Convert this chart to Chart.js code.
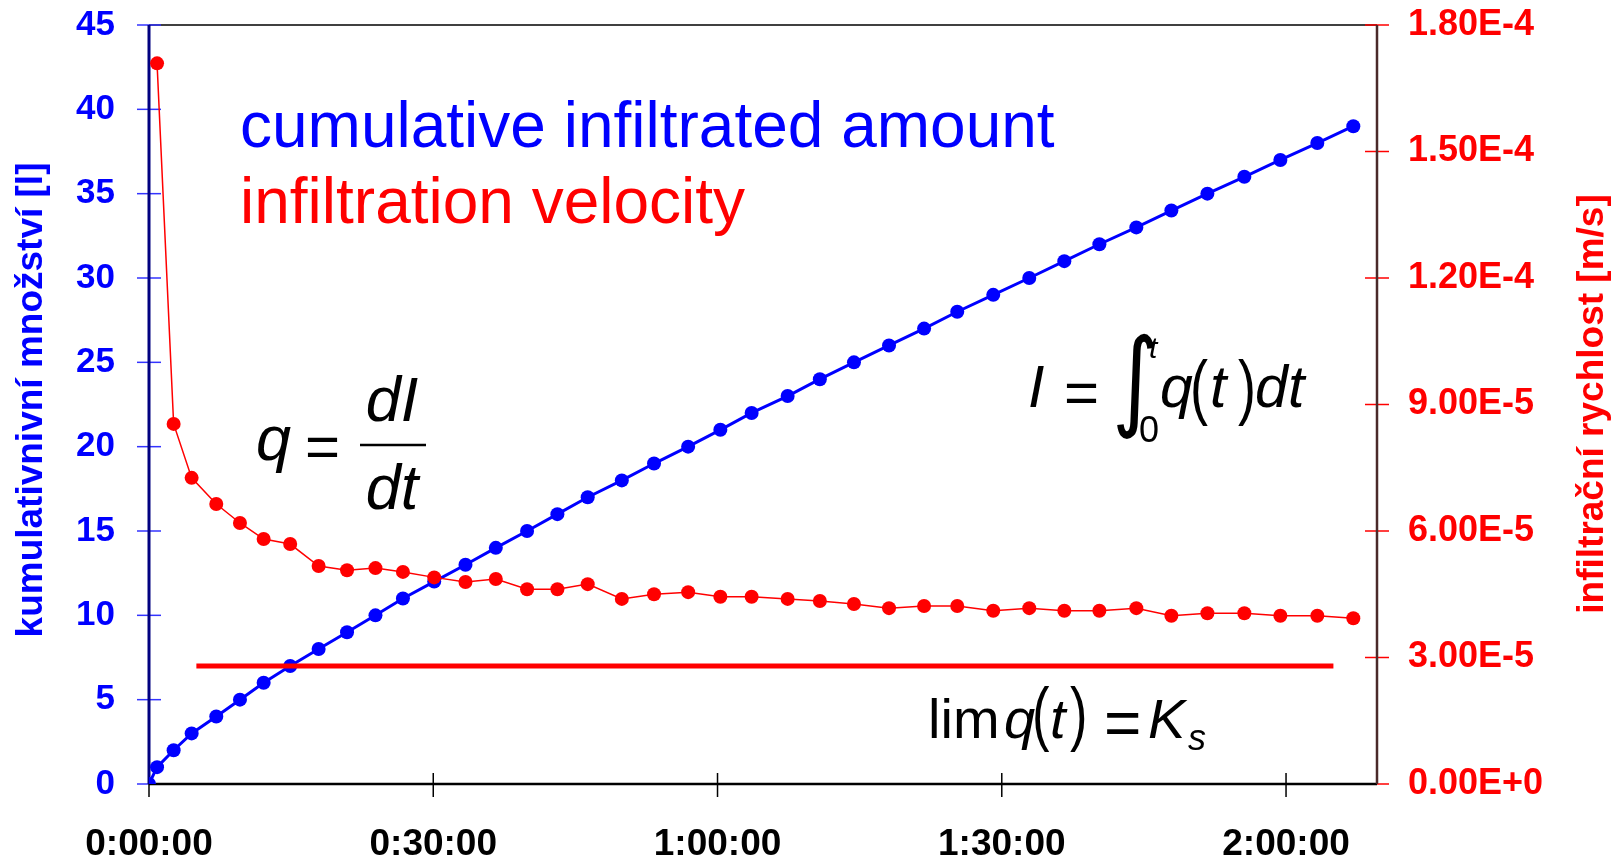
<!DOCTYPE html>
<html>
<head>
<meta charset="utf-8">
<script src="https://cdn.jsdelivr.net/npm/chart.js@4/dist/chart.umd.min.js"></script>
<style>
  body { margin: 0; background: #fff; }
  canvas { display: block; }
</style>
</head>
<body>
<canvas id="infiltration" width="1616" height="861"></canvas>
<script>
// time of each reading [min]
const timeMin = [0, 0.85, 2.6, 4.5, 7.1, 9.6, 12.1, 14.9, 17.9, 20.9, 23.9, 26.8, 30.1, 33.4, 36.6,
  39.9, 43.1, 46.3, 49.9, 53.3, 56.9, 60.3, 63.6, 67.4, 70.8, 74.4, 78.1, 81.8, 85.3, 89.1,
  92.9, 96.6, 100.3, 104.2, 107.9, 111.7, 115.6, 119.4, 123.3, 127.1];

// cumulative infiltrated amount [l]
const cumLiters = [0, 1, 2, 3, 4, 5, 6, 7, 8, 9, 10, 11, 12, 13, 14, 15, 16, 17, 18, 19,
  20, 21, 22, 23, 24, 25, 26, 27, 28, 29, 30, 31, 32, 33, 34, 35, 36, 37, 38, 39];

// infiltration velocity [m/s], from the second reading on
const velocity = [1.709e-4, 8.54e-5, 7.26e-5, 6.64e-5, 6.19e-5, 5.81e-5, 5.69e-5, 5.17e-5, 5.07e-5,
  5.12e-5, 5.03e-5, 4.90e-5, 4.79e-5, 4.86e-5, 4.62e-5, 4.62e-5, 4.74e-5, 4.39e-5, 4.50e-5,
  4.55e-5, 4.44e-5, 4.44e-5, 4.39e-5, 4.34e-5, 4.27e-5, 4.17e-5, 4.22e-5, 4.22e-5, 4.11e-5,
  4.17e-5, 4.11e-5, 4.11e-5, 4.17e-5, 3.99e-5, 4.05e-5, 4.05e-5, 3.99e-5, 3.99e-5, 3.93e-5];

// saturated conductivity line
const ksValue = 2.8e-5;
const ksTimes = [5, 125];

const xTicks = [0, 30, 60, 90, 120];
const leftTicks = [0, 5, 10, 15, 20, 25, 30, 35, 40, 45];
const rightTicks = [0, 3e-5, 6e-5, 9e-5, 1.2e-4, 1.5e-4, 1.8e-4];

const BLUE = '#0000ff';
const RED = '#ff0000';
const FONT = '"Liberation Sans", Arial, sans-serif';

const blueData = timeMin.map((t, i) => ({ x: t, y: cumLiters[i] }));
const redData = velocity.map((v, i) => ({ x: timeMin[i + 1], y: v }));
const ksData = ksTimes.map((t) => ({ x: t, y: ksValue }));

const fmtTime = (v) => {
  const h = Math.floor(v / 60);
  const m = Math.round(v % 60);
  return h + ':' + String(m).padStart(2, '0') + ':00';
};

const fmtExp = (v) => {
  if (v === 0) return '0.00E+0';
  return v.toExponential(2).toUpperCase();
};

const txt = (ctx, s, x, y, font, color, align) => {
  ctx.font = font;
  ctx.fillStyle = color || '#000';
  ctx.textAlign = align || 'left';
  ctx.textBaseline = 'alphabetic';
  ctx.fillText(s, x, y);
};

// same as txt but squeezed / stretched (thin brackets, tall integral)
const txtScaled = (ctx, s, x, y, font, sx, sy) => {
  ctx.save();
  ctx.translate(x, y);
  ctx.scale(sx, sy);
  txt(ctx, s, 0, 0, font);
  ctx.restore();
};

// axis lines with ticks crossing them, like the original Excel chart
const axesPlugin = {
  id: 'axesPlugin',
  beforeDatasetsDraw(chart) {
    const { ctx, chartArea: a, scales } = chart;
    ctx.save();
    ctx.lineWidth = 1.5;
    ctx.strokeStyle = '#000';
    ctx.beginPath();
    ctx.moveTo(a.left, a.top);
    ctx.lineTo(a.right, a.top);
    ctx.stroke();

    ctx.lineWidth = 1.5;
    ctx.strokeStyle = '#3333ff';
    leftTicks.forEach((v) => {
      const y = scales.y.getPixelForValue(v);
      ctx.beginPath();
      ctx.moveTo(a.left - 12, y);
      ctx.lineTo(a.left + 12, y);
      ctx.stroke();
    });
    ctx.strokeStyle = RED;
    rightTicks.forEach((v) => {
      const y = scales.y1.getPixelForValue(v);
      ctx.beginPath();
      ctx.moveTo(a.right - 12, y);
      ctx.lineTo(a.right + 12, y);
      ctx.stroke();
    });
    ctx.strokeStyle = '#000';
    xTicks.forEach((v) => {
      const x = scales.x.getPixelForValue(v);
      ctx.beginPath();
      ctx.moveTo(x, a.bottom - 11);
      ctx.lineTo(x, a.bottom + 13);
      ctx.stroke();
    });

    ctx.lineWidth = 2.5;
    ctx.strokeStyle = '#000';
    ctx.beginPath();
    ctx.moveTo(a.left, a.bottom);
    ctx.lineTo(a.right, a.bottom);
    ctx.stroke();
    ctx.lineWidth = 3;
    ctx.strokeStyle = '#000080';
    ctx.beginPath();
    ctx.moveTo(a.left, a.top);
    ctx.lineTo(a.left, a.bottom);
    ctx.stroke();
    ctx.lineWidth = 2.5;
    ctx.strokeStyle = '#4a2a2a';
    ctx.beginPath();
    ctx.moveTo(a.right, a.top);
    ctx.lineTo(a.right, a.bottom);
    ctx.stroke();
    ctx.restore();
  },
  afterDraw(chart) {
    const ctx = chart.ctx;
    ctx.save();

    // axis titles, both reading bottom to top
    ctx.save();
    ctx.translate(29, 400);
    ctx.rotate(-Math.PI / 2);
    txt(ctx, 'kumulativnivní množství [l]', 0, 13, 'bold 37px ' + FONT, BLUE, 'center');
    ctx.restore();
    ctx.save();
    ctx.translate(1590, 404);
    ctx.rotate(-Math.PI / 2);
    txt(ctx, 'infiltrační rychlost [m/s]', 0, 13, 'bold 37px ' + FONT, RED, 'center');
    ctx.restore();

    // legend-like captions
    txt(ctx, 'cumulative infiltrated amount', 240, 147, '64px ' + FONT, BLUE);
    txt(ctx, 'infiltration velocity', 240, 223, '64px ' + FONT, RED);

    const it = (n) => 'italic ' + n + 'px ' + FONT;
    const up = (n) => n + 'px ' + FONT;

    // q = dI/dt
    txt(ctx, 'q', 256, 460, it(63));
    txt(ctx, '=', 305, 467, up(60));
    ctx.lineWidth = 2.5;
    ctx.strokeStyle = '#000';
    ctx.beginPath();
    ctx.moveTo(360, 445);
    ctx.lineTo(426, 445);
    ctx.stroke();
    txt(ctx, 'dI', 392, 421, it(63), '#000', 'center');
    txt(ctx, 'dt', 392, 509, it(63), '#000', 'center');

    // I = integral q(t) dt
    txt(ctx, 'I', 1028, 407, it(59));
    txt(ctx, '=', 1064, 413, up(60));
    txtScaled(ctx, '\u222B', 1112, 416, '72px "DejaVu Sans"', 1.25, 1.51);
    txt(ctx, 't', 1149, 358, it(30));
    txt(ctx, '0', 1139, 442, up(36));
    txt(ctx, 'q', 1160, 407, it(59));
    txtScaled(ctx, '(', 1190, 411, up(72), 0.75, 1);
    txt(ctx, 't', 1210, 407, it(59));
    txtScaled(ctx, ')', 1238, 411, up(72), 0.75, 1);
    txt(ctx, 'd', 1255, 407, it(59));
    txt(ctx, 't', 1288, 407, it(59));

    // lim q(t) = Ks
    txt(ctx, 'lim', 928, 738, up(56));
    txt(ctx, 'q', 1004, 738, it(56));
    txtScaled(ctx, '(', 1032, 737, up(70), 0.75, 1);
    txt(ctx, 't', 1050, 738, it(56));
    txtScaled(ctx, ')', 1070, 737, up(70), 0.75, 1);
    txt(ctx, '=', 1104, 745, up(64));
    txt(ctx, 'K', 1148, 738, it(56));
    txt(ctx, 's', 1188, 750, it(36));

    ctx.restore();
  }
};

const ctx = document.getElementById('infiltration');

new Chart(ctx, {
  type: 'scatter',
  data: {
    datasets: [
      {
        label: 'Ks',
        data: ksData,
        yAxisID: 'y1',
        showLine: true,
        borderColor: RED,
        borderWidth: 5,
        pointRadius: 0,
        borderCapStyle: 'butt'
      },
      {
        label: 'infiltration velocity',
        data: redData,
        yAxisID: 'y1',
        showLine: true,
        borderColor: RED,
        borderWidth: 1.5,
        backgroundColor: RED,
        pointRadius: 7,
        pointBorderWidth: 0
      },
      {
        label: 'cumulative infiltrated amount',
        data: blueData,
        yAxisID: 'y',
        showLine: true,
        borderColor: BLUE,
        borderWidth: 3,
        backgroundColor: BLUE,
        pointRadius: 7,
        pointBorderWidth: 0
      }
    ]
  },
  options: {
    responsive: false,
    devicePixelRatio: 1,
    animation: false,
    layout: { padding: { top: 25, left: 0, right: 0, bottom: 0 } },
    plugins: {
      legend: { display: false },
      tooltip: { enabled: false }
    },
    scales: {
      x: {
        type: 'linear',
        position: 'bottom',
        min: 0,
        max: 129.6,
        grid: { display: false },
        border: { display: false },
        afterBuildTicks: (scale) => { scale.ticks = xTicks.map((v) => ({ value: v })); },
        afterFit: (scale) => {
          scale.height = 77;
          scale.paddingLeft = 0;
          scale.paddingRight = 0;
        },
        ticks: {
          callback: (v) => fmtTime(v),
          color: '#000',
          padding: 31,
          maxRotation: 0,
          font: { family: FONT, size: 37, weight: 'bold' }
        }
      },
      y: {
        position: 'left',
        min: 0,
        max: 45,
        grid: { display: false },
        border: { display: false },
        afterBuildTicks: (scale) => { scale.ticks = leftTicks.map((v) => ({ value: v })); },
        afterFit: (scale) => {
          scale.width = 149;
          scale.paddingTop = 0;
          scale.paddingBottom = 0;
        },
        ticks: {
          color: BLUE,
          padding: 26,
          font: { family: FONT, size: 35, weight: 'bold' }
        }
      },
      y1: {
        position: 'right',
        min: 0,
        max: 1.8e-4,
        grid: { display: false },
        border: { display: false },
        afterBuildTicks: (scale) => { scale.ticks = rightTicks.map((v) => ({ value: v })); },
        afterFit: (scale) => {
          scale.width = 239;
          scale.paddingTop = 0;
          scale.paddingBottom = 0;
        },
        ticks: {
          callback: (v) => fmtExp(v),
          color: RED,
          padding: 23,
          font: { family: FONT, size: 36, weight: 'bold' }
        }
      }
    }
  },
  plugins: [axesPlugin]
});
</script>
</body>
</html>
